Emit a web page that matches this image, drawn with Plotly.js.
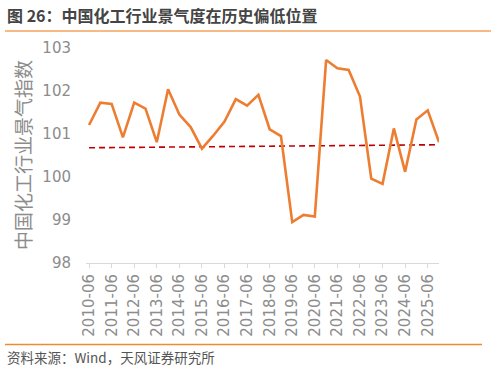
<!DOCTYPE html>
<html>
<head>
<meta charset="utf-8">
<script src="https://cdn.plot.ly/plotly-3.0.1.min.js"></script>
<style>html,body{margin:0;padding:0;background:#fff;}#chart{width:497px;height:373px;}</style>
</head>
<body>
<div id="chart"></div>
<script>
// Half-year observation dates
const periods = [
  '2010-06','2010-12','2011-06','2011-12','2012-06','2012-12','2013-06','2013-12',
  '2014-06','2014-12','2015-06','2015-12','2016-06','2016-12','2017-06','2017-12',
  '2018-06','2018-12','2019-06','2019-12','2020-06','2020-12','2021-06','2021-12',
  '2022-06','2022-12','2023-06','2023-12','2024-06','2024-12','2025-06','2025-12'
];
// 中国化工行业景气指数
const indexValues = [
  101.21, 101.73, 101.70, 100.92, 101.73, 101.59, 100.81, 102.04,
  101.45, 101.16, 100.66, 100.96, 101.29, 101.81, 101.66, 101.91,
  101.11, 100.95, 98.95, 99.12, 99.08, 102.72, 102.53, 102.49,
  101.87, 99.96, 99.84, 101.13, 100.12, 101.34, 101.55, 100.81
];
// dashed reference line (start / end)
const refPeriods = ['2010-06', '2025-12'];
const refValues = [100.68, 100.75];
// x tick labels
const tickLabels = [
  '2010-06','2011-06','2012-06','2013-06','2014-06','2015-06','2016-06','2017-06',
  '2018-06','2019-06','2020-06','2021-06','2022-06','2023-06','2024-06','2025-06'
];
const yTicks = [98, 99, 100, 101, 102, 103];

const W = 497, H = 373;
const L = 86, R = 58, T = 48, B = 110;
const pw = W - L - R, ph = H - T - B;
const px = x => (x - L) / pw;
const py = y => (H - B - y) / ph;

const tickFont = {family: 'DejaVu Sans, sans-serif', size: 15, color: '#8c8c8c'};

const data = [
  {
    x: refPeriods, y: refValues, type: 'scatter', mode: 'lines',
    line: {color: '#C00000', width: 1.6, dash: '6px,4px'}, hoverinfo: 'skip'
  },
  {
    x: periods, y: indexValues, type: 'scatter', mode: 'lines',
    line: {color: '#ED7D31', width: 2.6}
  }
];

const layout = {
  width: W, height: H,
  margin: {l: L, r: R, t: T, b: B, pad: 0},
  paper_bgcolor: '#fff', plot_bgcolor: '#fff',
  showlegend: false,
  xaxis: {
    type: 'category',
    categoryorder: 'array', categoryarray: periods,
    range: [-0.27, 31],
    tickmode: 'array', tickvals: tickLabels, ticktext: tickLabels,
    tickangle: -90,
    tickfont: tickFont,
    ticks: 'outside', ticklen: 4, tickcolor: '#d9d9d9', tickwidth: 1,
    showline: true, linecolor: '#d9d9d9', linewidth: 1,
    showgrid: false, zeroline: false, fixedrange: true
  },
  yaxis: {
    range: [98, 103],
    tickmode: 'array', tickvals: yTicks,
    tickfont: tickFont,
    ticks: '', showline: false, showgrid: false, zeroline: false,
    ticklabelstandoff: 14, fixedrange: true
  },
  annotations: [
    {
      text: '图 26：中国化工行业景气度在历史偏低位置',
      xref: 'paper', yref: 'paper', x: px(5), y: py(15),
      xanchor: 'left', yanchor: 'middle', showarrow: false,
      font: {family: 'Noto Sans CJK SC, sans-serif', size: 16, color: '#444444', weight: 700}
    },
    {
      text: '中国化工行业景气指数',
      xref: 'paper', yref: 'paper', x: px(22), y: py(155),
      xanchor: 'center', yanchor: 'middle', textangle: -90, showarrow: false,
      font: {family: 'Noto Sans CJK SC, sans-serif', size: 19, color: '#8c8c8c'}
    },
    {
      text: '资料来源：Wind，天风证券研究所',
      xref: 'paper', yref: 'paper', x: px(5), y: py(357),
      xanchor: 'left', yanchor: 'middle', showarrow: false,
      font: {family: 'Noto Sans CJK SC, sans-serif', size: 13.5, color: '#555'}
    }
  ],
  shapes: [
    {type: 'line', xref: 'paper', yref: 'paper', x0: px(5), x1: px(491), y0: py(31), y1: py(31),
     line: {color: '#F5A35C', width: 1.6}},
    {type: 'line', xref: 'paper', yref: 'paper', x0: px(5), x1: px(482), y0: py(344.5), y1: py(344.5),
     line: {color: '#F08A2E', width: 1.3}}
  ]
};

Plotly.newPlot('chart', data, layout, {displayModeBar: false, staticPlot: true});
</script>
</body>
</html>
